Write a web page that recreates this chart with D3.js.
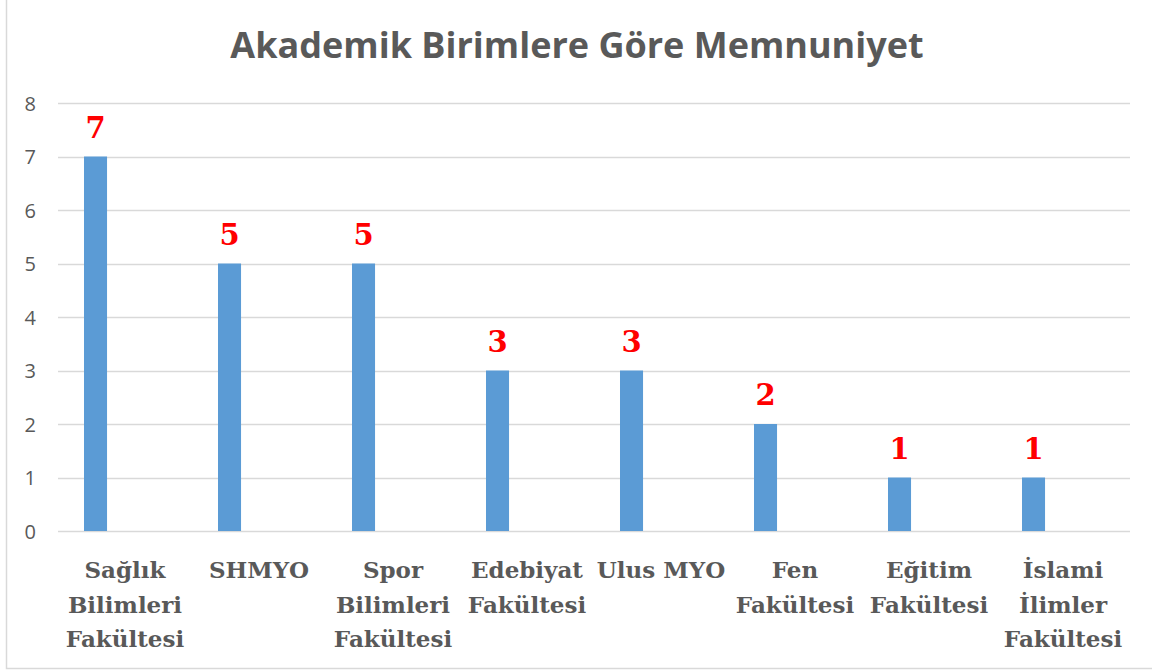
<!DOCTYPE html>
<html>
<head>
<meta charset="utf-8">
<script src="https://cdn.jsdelivr.net/npm/d3@7"></script>
<style>
  html, body { margin: 0; padding: 0; background: #fff; }
  svg { display: block; }
</style>
</head>
<body>
<svg id="chart" width="1152" height="672"></svg>
<script>
const title = "Akademik Birimlere Göre Memnuniyet";
const categories = ["Sağlık Bilimleri Fakültesi", "SHMYO", "Spor Bilimleri Fakültesi", "Edebiyat Fakültesi", "Ulus MYO", "Fen Fakültesi", "Eğitim Fakültesi", "İslami İlimler Fakültesi"];
const values = [7, 5, 5, 3, 3, 2, 1, 1];
const yTicks = [0, 1, 2, 3, 4, 5, 6, 7, 8];

const svg = d3.select("#chart");
const W = 1152, H = 672;
const plot = { left: 58, right: 1130, top: 103, bottom: 531 };

// chart border
svg.append("rect")
  .attr("x", 6.5).attr("y", -3).attr("width", W + 10).attr("height", 671.5)
  .attr("fill", "#fff").attr("stroke", "#d9d9d9").attr("stroke-width", 1.5);

// title
svg.append("text")
  .attr("x", 577).attr("y", 58)
  .attr("text-anchor", "middle")
  .attr("font-family", "'Open Sans', sans-serif")
  .attr("font-weight", 700)
  .attr("font-size", 36)
  .attr("fill", "#595959")
  .text(title);

const x = d3.scaleBand().domain(categories).range([plot.left, plot.right]).padding(0);
const y = d3.scaleLinear().domain([0, 8]).range([plot.bottom, plot.top]);

// gridlines
svg.append("g").selectAll("line").data(yTicks).join("line")
  .attr("x1", plot.left).attr("x2", plot.right)
  .attr("y1", d => Math.round(y(d)) + 0.5).attr("y2", d => Math.round(y(d)) + 0.5)
  .attr("stroke", "#d9d9d9").attr("stroke-width", 1.5);

// y axis labels
const yAxis = d3.axisLeft(y).tickValues(yTicks).tickSize(0).tickPadding(0);
const gy = svg.append("g").attr("transform", `translate(36,0)`).call(yAxis);
gy.select(".domain").remove();
gy.selectAll("text")
  .attr("font-family", "'Open Sans', 'Liberation Sans', sans-serif")
  .attr("font-size", 20)
  .attr("fill", "#595959")
  .attr("dy", "0.35em");

// bars (first series of cluster, offset within band)
const bw = x.bandwidth();
const barOff = bw * 0.194, barW = bw * 0.172;
svg.append("g").selectAll("rect").data(values).join("rect")
  .attr("x", (d, i) => x(categories[i]) + barOff)
  .attr("width", barW)
  .attr("y", d => y(d))
  .attr("height", d => y(0) - y(d))
  .attr("fill", "#5B9BD5");

// data labels
svg.append("g").selectAll("text").data(values).join("text")
  .attr("x", (d, i) => x(categories[i]) + barOff + barW / 2)
  .attr("y", d => y(d) - 19)
  .attr("text-anchor", "middle")
  .attr("font-family", "'DejaVu Serif', serif")
  .attr("font-weight", 700)
  .attr("font-size", 29)
  .attr("fill", "#FF0000")
  .text(d => d);

// x axis category labels (wrapped)
const xAxis = d3.axisBottom(x).tickSize(0).tickPadding(0);
const gx = svg.append("g").attr("transform", `translate(0,${plot.bottom})`).call(xAxis);
gx.select(".domain").remove();
gx.selectAll("text").each(function(d) {
  const t = d3.select(this);
  t.text(null)
    .attr("y", 0).attr("dy", null)
    .attr("font-family", "'DejaVu Serif', serif")
    .attr("font-weight", 700)
    .attr("font-size", 23)
    .attr("fill", "#595959");
  const words = d.split(" ");
  const lines = [];
  let cur = [];
  const probe = t.append("tspan");
  words.forEach(w => {
    const test = cur.concat([w]).join(" ");
    probe.text(test);
    if (cur.length && probe.node().getComputedTextLength() > bw - 2) {
      lines.push(cur.join(" "));
      cur = [w];
    } else {
      cur.push(w);
    }
  });
  lines.push(cur.join(" "));
  probe.remove();
  lines.forEach((ln, i) => {
    t.append("tspan").attr("x", 0).attr("y", 47 + i * 34.5).text(ln);
  });
});
</script>
</body>
</html>
